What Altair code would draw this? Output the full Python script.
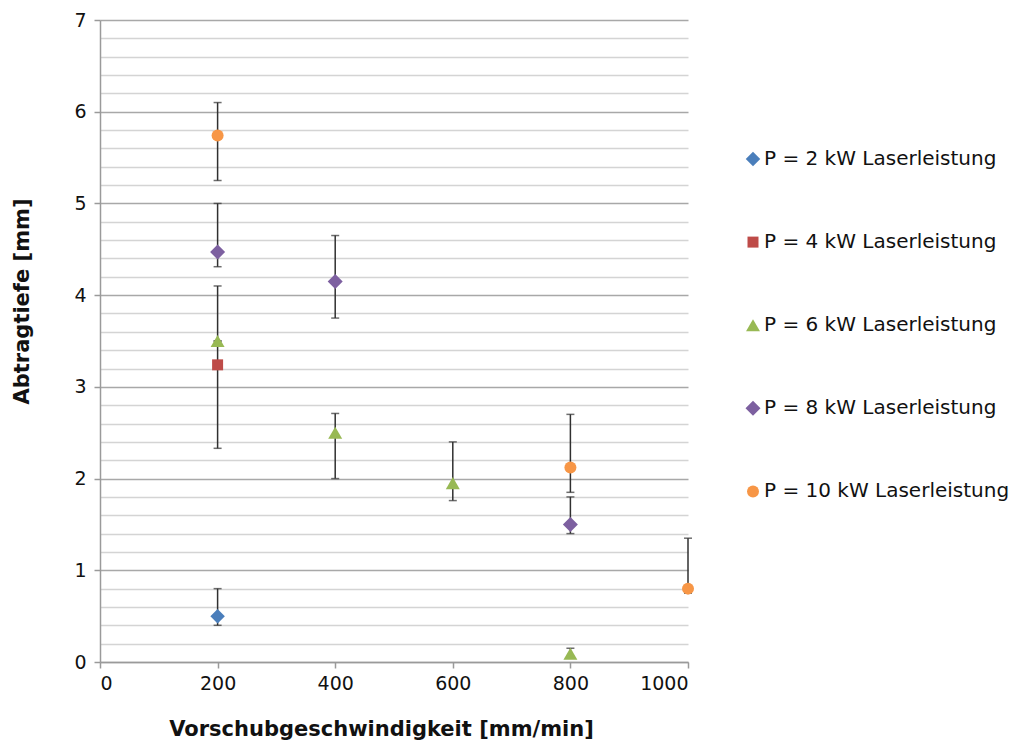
import altair as alt
import pandas as pd

series_names = [
    "P = 2 kW Laserleistung",
    "P = 4 kW Laserleistung",
    "P = 6 kW Laserleistung",
    "P = 8 kW Laserleistung",
    "P = 10 kW Laserleistung",
]
series_colors = ["#4A7EBB", "#BE4B48", "#98B954", "#7D60A0", "#F79646"]
series_shapes = ["diamond", "square", "triangle-up", "diamond", "circle"]
series_sizes = [210, 121, 195, 225, 144]

# one row per measured point
point_series = [0, 1, 2, 2, 2, 2, 3, 3, 3, 4, 4, 4]
speed = [200, 200, 200, 400, 600, 800, 200, 400, 800, 200, 800, 1000]
depth = [0.50, 3.24, 3.50, 2.50, 1.95, 0.09, 4.47, 4.15, 1.50, 5.74, 2.12, 0.80]
err_lo = [0.40, 2.33, 3.50, 2.00, 1.76, 0.05, 4.31, 3.75, 1.40, 5.25, 1.85, 0.75]
err_hi = [0.80, 4.10, 3.50, 2.71, 2.40, 0.15, 5.00, 4.65, 1.80, 6.10, 2.70, 1.35]

x_ticks = [0, 200, 400, 600, 800, 1000]
y_grid = [round(i * 0.2, 1) for i in range(36)]

df = pd.DataFrame({
    "serie": [series_names[i] for i in point_series],
    "sz": [series_names[i] for i in point_series],
    "v": speed,
    "t": depth,
    "lo": err_lo,
    "hi": err_hi,
})

FONT = "DejaVu Sans"
is_major = "abs(datum.value - round(datum.value)) < 0.001"

xs = alt.Scale(domain=[0, 1000], nice=False, zero=True)
ys = alt.Scale(domain=[0, 7], nice=False)

x_axis = alt.Axis(
    values=x_ticks, grid=False, format="d", domainColor="#9a9a9a", domainWidth=1.5,
    tickColor="#9a9a9a", tickWidth=1.5, tickSize=6,
    labelFont=FONT, labelFontSize=19, labelColor="#111", labelPadding=6,
    title="Vorschubgeschwindigkeit [mm/min]", titleFont=FONT, titleFontSize=21,
    titleFontWeight="bold", titleColor="#111",
    titleX=281, titleY=67, titleBaseline="middle", titleAlign="center",
)
y_axis = alt.Axis(
    values=y_grid, tickCount=60, grid=True,
    gridColor={"condition": {"test": is_major, "value": "#a8a8a8"}, "value": "#d4d4d4"},
    gridWidth=1.5,
    domainColor="#9a9a9a", domainWidth=1.5,
    tickColor="#9a9a9a", tickWidth=1.5, tickSize=6,
    tickOpacity={"condition": {"test": is_major, "value": 1}, "value": 0},
    labelExpr=f"{is_major} ? toString(round(datum.value)) : ''",
    labelOverlap=False,
    labelFont=FONT, labelFontSize=19, labelColor="#111", labelPadding=8,
    title="Abtragtiefe [mm]", titleFont=FONT, titleFontSize=21,
    titleFontWeight="bold", titleColor="#111",
    titleX=-78, titleY=281, titleBaseline="middle", titleAlign="center", titleAngle=-90,
)

legend = alt.Legend(
    title=None, orient="none", legendX=643, legendY=129,
    labelFont=FONT, labelFontSize=20, labelColor="#111", labelLimit=0,
    symbolSize=90, rowPadding=63.1, labelOffset=1, symbolStrokeWidth=0, padding=0,
)

base = alt.Chart(df)

bars = base.mark_rule(color="#303030", strokeWidth=1.5).encode(
    x=alt.X("v:Q", scale=xs, axis=x_axis),
    y=alt.Y("lo:Q", scale=ys, axis=y_axis),
    y2="hi:Q",
)
caps_lo = base.mark_tick(color="#303030", orient="horizontal", size=8, thickness=1.5).encode(
    x=alt.X("v:Q", scale=xs), y=alt.Y("lo:Q", scale=ys)
)
caps_hi = base.mark_tick(color="#303030", orient="horizontal", size=8, thickness=1.5).encode(
    x=alt.X("v:Q", scale=xs), y=alt.Y("hi:Q", scale=ys)
)

points = base.mark_point(filled=True, opacity=1).encode(
    x=alt.X("v:Q", scale=xs),
    y=alt.Y("t:Q", scale=ys),
    color=alt.Color("serie:N", scale=alt.Scale(domain=series_names, range=series_colors),
                    legend=legend),
    shape=alt.Shape("serie:N", scale=alt.Scale(domain=series_names, range=series_shapes),
                    legend=legend),
    size=alt.Size("sz:N", scale=alt.Scale(type="ordinal", domain=series_names, range=series_sizes),
                  legend=None),
)

chart = alt.layer(bars, caps_lo, caps_hi, points).properties(
    width=588, height=642,
    background="white",
    autosize=alt.AutoSizeParams(type="none"),
    padding={"left": 92, "top": 12, "right": 324, "bottom": 79},
).configure_view(stroke=None)

chart.save("out.html", embed_options={"renderer": "svg", "actions": False})
